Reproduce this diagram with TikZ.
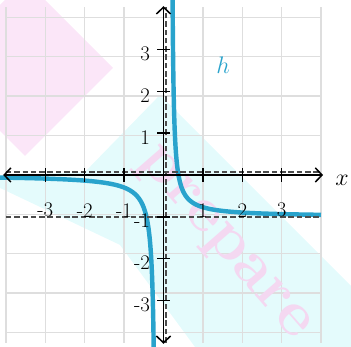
\documentclass[tikz,border=0pt]{standalone}
\usepackage{xcolor}
\usepackage{tikz}
\usetikzlibrary{arrows.meta}

\definecolor{curveblue}{RGB}{41,163,204}
\definecolor{gridgray}{RGB}{222,222,222}
\definecolor{markpink}{RGB}{251,230,248}
\definecolor{markcyan}{RGB}{228,251,252}
\definecolor{marktext}{RGB}{244,216,241}

\begin{document}
\begin{tikzpicture}[
  x=1cm, y=1.063cm,
  gridline/.style={draw=gridgray, line width=1pt},
  axisline/.style={line width=1.1pt,
    {Straight Barb[length=1.7mm,width=3.6mm]}-{Straight Barb[length=1.7mm,width=3.6mm]}},
  asym/.style={draw=black!70, line width=1.1pt, dash pattern=on 4pt off 2pt},
  graph/.style={draw=curveblue, line width=3.2pt},
  ticklabel/.style={font=\fontsize{15}{15}\selectfont, inner sep=1pt}
]
  \useasboundingbox (-4.15,-4.106) rectangle (4.759,4.178);
  \clip (-4.15,-4.106) rectangle (4.759,4.178);

  % watermark shapes, in pixel units of the picture
  \begin{scope}[xshift=-4.15cm, yshift=4.442cm, x=0.02538cm, y=-0.02538cm]
    \fill[markcyan] (160,95) -- (351,286) -- (351,347) -- (195,347) -- (120,245)
      -- (0,188) -- (0,176) -- (85,172) -- cycle;
    \fill[markpink] (25,-20) -- (113,68) -- (25,156) -- (-63,68) -- cycle;
  \end{scope}

  % grid
  \draw[gridline] (-4,-4) grid (4,4);

  \node[rotate=-49, text=marktext, font=\bfseries\fontsize{46}{46}\selectfont]
    (mark) at (1.48,-1.68) {prepare};

  % the two branches of h
  \draw[graph] plot[domain=-2.88:1.38, samples=120, variable=\u]
    ({-0.19-exp(\u)}, {-0.243*exp(-\u)});
  \draw[graph] plot[domain=-3.4:1.336, samples=120, variable=\u]
    ({0.195+exp(\u)}, {-1+0.185*exp(-\u)});

  % asymptotes
  \draw[asym] (-4,-1) -- (4,-1);
  \draw[asym] (-4,0.07) -- (4,0.07);
  \draw[asym] (0.06,-4) -- (0.06,4);

  % axes
  \draw[axisline] (-4.07,0) -- (4.05,0);
  \draw[axisline] (0,-4.03) -- (0,4.03);

  \foreach \n in {-3,-2,-1,1,2,3} {
    \draw[line width=1pt] (\n,-0.16) -- (\n,0.16);
    \draw[line width=1pt] (-0.16,\n) -- (0.16,\n);
    \node[ticklabel] (xl\n) at (\n,-0.84) {\n};
    \node[ticklabel, anchor=east] (yl\n) at (-0.3,\n-0.1) {\n};
  }

  \node[font=\LARGE] (xname) at (4.53,-0.12) {$x$};
  \node[font=\fontsize{19}{19}\selectfont, text=curveblue] (hname) at (1.51,2.63) {$h$};
\end{tikzpicture}
\end{document}
